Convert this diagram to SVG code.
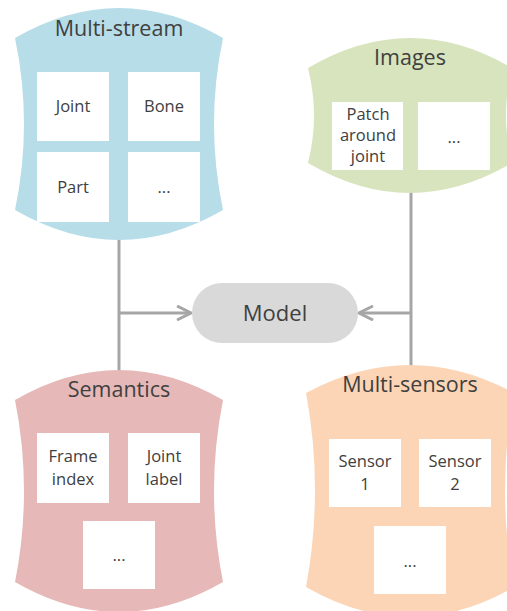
<svg xmlns="http://www.w3.org/2000/svg" width="507" height="611" viewBox="0 0 507 611">
<style>
text{font-family:"Open Sans","Noto Sans",sans-serif;fill:#404040;text-anchor:middle}
.t{font-size:21.5px}
.b{font-size:16.5px}
.box{fill:#ffffff}
.ln{stroke:#a6a6a6;stroke-width:3;fill:none}
</style>
<defs>
<marker id="arr" markerUnits="userSpaceOnUse" markerWidth="20" markerHeight="20" refX="16" refY="8" orient="auto">
<path d="M2,1 L16,8 L2,15" fill="none" stroke="#a6a6a6" stroke-width="3"/>
</marker>
</defs>
<g id="connectors">
<path class="ln" d="M119,236 V374"/>
<path class="ln" d="M119,313 H191" marker-end="url(#arr)"/>
<path class="ln" d="M411,190 V368"/>
<path class="ln" d="M411,313 H359" marker-end="url(#arr)"/>
</g>
<g id="multi-stream">
<path fill="#b7dde8" d="M15,38 Q119,-22 223,38 Q205,124 223,210 Q119,270 15,210 Q33,124 15,38 Z"/>
<text class="t" x="119" y="36">Multi-stream</text>
<rect class="box" x="37" y="72" width="72" height="69"/>
<rect class="box" x="128" y="72" width="72" height="69"/>
<rect class="box" x="37" y="152" width="72" height="70"/>
<rect class="box" x="128" y="152" width="72" height="70"/>
<text class="b" x="73" y="112">Joint</text>
<text class="b" x="164" y="112">Bone</text>
<text class="b" x="73" y="193">Part</text>
<text class="b" x="164" y="193">...</text>
</g>
<g id="images">
<path fill="#d7e4bd" d="M308,68 Q410,8 512,68 Q500,116 512,163 Q410,223 308,163 Q320,116 308,68 Z"/>
<text class="t" x="410" y="65">Images</text>
<rect class="box" x="332" y="102" width="71" height="68"/>
<rect class="box" x="418" y="102" width="72" height="68"/>
<text class="b" x="368" y="120">Patch</text>
<text class="b" x="368" y="141">around</text>
<text class="b" x="368" y="162">joint</text>
<text class="b" x="454" y="143">...</text>
</g>
<g id="model">
<rect x="192" y="283" width="166" height="60" rx="30" fill="#d9d9d9"/>
<text x="275" y="321" style="font-size:22px">Model</text>
</g>
<g id="semantics">
<path fill="#e6b9b8" d="M15,400 Q119,340 223,400 Q205,491 223,582 Q119,642 15,582 Q33,491 15,400 Z"/>
<text class="t" x="119" y="397">Semantics</text>
<rect class="box" x="37" y="433" width="72" height="70"/>
<rect class="box" x="128" y="433" width="72" height="70"/>
<rect class="box" x="83" y="521" width="72" height="68"/>
<text class="b" x="73" y="462">Frame</text>
<text class="b" x="73" y="485">index</text>
<text class="b" x="164" y="462">Joint</text>
<text class="b" x="164" y="485">label</text>
<text class="b" x="119" y="561">...</text>
</g>
<g id="multi-sensors">
<path fill="#fbd5b5" d="M306,393 Q410,337 514,393 Q496,490 514,587 Q410,647 306,587 Q324,490 306,393 Z"/>
<text class="t" x="410" y="392">Multi-sensors</text>
<rect class="box" x="329" y="439" width="72" height="68"/>
<rect class="box" x="419" y="439" width="72" height="68"/>
<rect class="box" x="374" y="526" width="72" height="68"/>
<text class="b" x="365" y="467">Sensor</text>
<text class="b" x="365" y="490">1</text>
<text class="b" x="455" y="467">Sensor</text>
<text class="b" x="455" y="490">2</text>
<text class="b" x="410" y="567">...</text>
</g>
</svg>
